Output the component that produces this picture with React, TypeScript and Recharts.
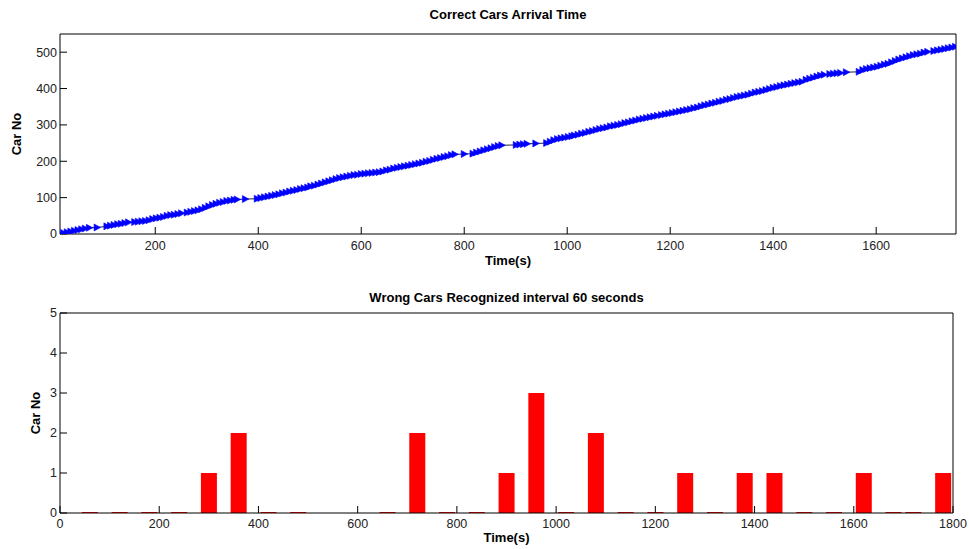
import { LineChart, Line, BarChart, Bar, XAxis, YAxis } from "recharts";

const arrivalTime = [
  15, 22, 29, 36, 43, 50, 57, 64, 72, 87, 106, 113, 120, 127, 134, 141, 148, 160, 167, 174,
  181, 188, 195, 202, 209, 216, 223, 230, 237, 244, 251, 262, 269, 276, 283, 290, 297, 304, 311, 318,
  325, 332, 339, 346, 353, 359, 375, 398, 405, 412, 419, 426, 433, 440, 447, 454, 461, 468, 475, 482,
  489, 496, 502, 509, 516, 523, 530, 537, 544, 551, 558, 565, 572, 579, 586, 593, 600, 607, 614, 621,
  628, 635, 642, 649, 656, 663, 670, 677, 684, 691, 698, 705, 712, 719, 726, 733, 740, 747, 754, 761,
  768, 775, 782, 800, 817, 824, 831, 838, 845, 852, 859, 866, 873, 901, 908, 915, 922, 939, 960, 967,
  974, 981, 988, 995, 1002, 1009, 1014, 1021, 1028, 1035, 1042, 1049, 1056, 1063, 1070, 1077, 1084, 1091, 1098, 1105,
  1112, 1119, 1126, 1133, 1140, 1147, 1154, 1161, 1168, 1175, 1183, 1190, 1197, 1204, 1211, 1218, 1225, 1232, 1239, 1246,
  1253, 1260, 1267, 1274, 1281, 1288, 1295, 1302, 1309, 1316, 1323, 1330, 1337, 1344, 1351, 1358, 1365, 1372, 1379, 1386,
  1393, 1400, 1407, 1414, 1421, 1428, 1435, 1442, 1449, 1456, 1464, 1471, 1478, 1485, 1492, 1499, 1510, 1517, 1524, 1531,
  1542, 1567, 1574, 1581, 1588, 1595, 1602, 1609, 1616, 1623, 1630, 1637, 1644, 1651, 1658, 1665, 1672, 1679, 1686, 1693,
  1700, 1712, 1719, 1726, 1733, 1740, 1747, 1754,
];
const carNo = [
  1, 3, 5, 7, 9, 11, 13, 15, 17, 18, 21, 23, 25, 27, 28, 30, 32, 33, 34, 35,
  36, 38, 41, 43, 45, 47, 50, 52, 53, 55, 57, 59, 61, 63, 65, 68, 72, 76, 80, 83,
  86, 88, 91, 92, 94, 95, 96, 97, 99, 101, 103, 105, 107, 109, 112, 114, 117, 119, 121, 124,
  126, 128, 131, 133, 136, 139, 142, 145, 148, 151, 154, 156, 158, 160, 162, 163, 165, 166, 167, 168,
  169, 170, 172, 175, 177, 180, 182, 184, 186, 188, 190, 192, 194, 196, 199, 201, 204, 207, 209, 212,
  214, 217, 219, 220, 221, 224, 227, 230, 233, 236, 239, 242, 244, 245, 246, 247, 248, 249, 250, 254,
  258, 261, 263, 265, 267, 269, 271, 273, 276, 278, 281, 283, 286, 289, 291, 293, 296, 298, 300, 302,
  305, 307, 310, 312, 315, 317, 319, 321, 323, 325, 327, 329, 331, 333, 335, 337, 339, 341, 343, 346,
  348, 351, 354, 356, 359, 361, 364, 366, 369, 371, 374, 377, 379, 381, 383, 386, 389, 391, 393, 396,
  399, 402, 404, 407, 409, 411, 413, 415, 417, 419, 424, 427, 430, 433, 436, 438, 440, 441, 442, 443,
  445, 446, 451, 454, 456, 458, 460, 463, 466, 468, 472, 476, 480, 483, 486, 489, 492, 494, 496, 499,
  501, 503, 505, 507, 509, 511, 513, 515,
];

// 60-second intervals and number of wrongly recognized cars
const intervalTime = [
  60, 120, 180, 240, 300, 360, 420, 480, 660, 720, 780, 840, 900, 960, 1020, 1080, 1140, 1200,
  1260, 1320, 1380, 1440, 1500, 1560, 1620, 1680, 1720, 1780,
];
const wrongCars = [
  0, 0, 0, 0, 1, 2, 0, 0, 0, 2, 0, 0, 1, 3, 0, 2, 0, 0,
  1, 0, 1, 1, 0, 0, 1, 0, 0, 1,
];

const topXTicks = [200, 400, 600, 800, 1000, 1200, 1400, 1600];
const topYTicks = [0, 100, 200, 300, 400, 500];
const bottomXTicks = [0, 200, 400, 600, 800, 1000, 1200, 1400, 1600, 1800];
const bottomYTicks = [0, 1, 2, 3, 4, 5];

const arrivals = arrivalTime.map((t, i) => ({ t, car: carNo[i] }));
const wrongData = intervalTime.map((t, i) => ({ t, wrong: wrongCars[i] }));

const tickStyle = { fill: "#222", fontSize: 12.5 };
const labelStyle = { fill: "#000", fontSize: 13, fontWeight: "bold" };

const renderArrow = (props: any) => {
  const { cx, cy, index } = props;
  if (cx == null || cy == null) return <g key={`d-${index}`} />;
  return (
    <path
      key={`d-${index}`}
      d={`M${cx - 3},${cy - 3.5}L${cx + 3.5},${cy}L${cx - 3},${cy + 3.5}Z`}
      fill="#0000ff"
      stroke="#0000ff"
      strokeWidth={0.6}
    />
  );
};

const yLabel = (text: string, x: number) => (props: any) => {
  const vb = props.viewBox || {};
  const cy = (vb.y || 0) + (vb.height || 0) / 2;
  return (
    <text
      x={x}
      y={cy}
      transform={`rotate(-90, ${x}, ${cy})`}
      textAnchor="middle"
      dominantBaseline="central"
      fontSize={13}
      fontWeight="bold"
      fill="#000"
    >
      {text}
    </text>
  );
};

export default function App() {
  return (
    <div
      style={{
        position: "absolute",
        left: 0,
        top: 0,
        width: 969,
        height: 549,
        background: "#fff",
        fontFamily: '"Liberation Sans", Arial, sans-serif',
      }}
    >
      <div style={{ position: "absolute", left: 0, top: 0 }}>
        <LineChart width={969} height={270} data={arrivals} margin={{ top: 33, right: 12, bottom: 0, left: 0 }}>
          <XAxis
            dataKey="t"
            type="number"
            domain={[15, 1755]}
            ticks={topXTicks}
            allowDataOverflow
            height={36}
            tickSize={-7}
            tickMargin={14}
            stroke="#000"
            tick={tickStyle}
            label={{ value: "Time(s)", position: "insideBottom", offset: 5, ...labelStyle }}
          />
          <XAxis
            xAxisId="top"
            orientation="top"
            type="number"
            domain={[15, 1755]}
            ticks={topXTicks}
            allowDataOverflow
            height={1}
            tickSize={-7}
            tick={false}
            stroke="#000"
            label={{ value: "Correct Cars Arrival Time", position: "top", offset: 14, ...labelStyle }}
          />
          <YAxis
            type="number"
            domain={[0, 550]}
            ticks={topYTicks}
            allowDataOverflow
            width={60}
            tickSize={-7}
            tickMargin={10}
            stroke="#000"
            tick={tickStyle}
            label={{ content: yLabel("Car No", 16) }}
          />
          <YAxis
            yAxisId="right"
            orientation="right"
            type="number"
            domain={[0, 550]}
            ticks={topYTicks}
            allowDataOverflow
            width={1}
            tickSize={-7}
            tick={false}
            stroke="#000"
          />
          <Line
            type="linear"
            dataKey="car"
            stroke="#202040"
            strokeWidth={1}
            dot={renderArrow}
            activeDot={false}
            isAnimationActive={false}
          />
        </LineChart>
      </div>
      <div style={{ position: "absolute", left: 0, top: 278 }}>
        <BarChart width={969} height={271} data={wrongData} margin={{ top: 34, right: 15, bottom: 0, left: 0 }}>
          <XAxis
            dataKey="t"
            type="number"
            domain={[0, 1800]}
            ticks={bottomXTicks}
            allowDataOverflow
            height={36}
            tickSize={-7}
            tickMargin={13}
            stroke="#000"
            tick={tickStyle}
            label={{ value: "Time(s)", position: "insideBottom", offset: 7, ...labelStyle }}
          />
          <XAxis
            xAxisId="top"
            orientation="top"
            type="number"
            domain={[0, 1800]}
            ticks={bottomXTicks}
            allowDataOverflow
            height={1}
            tickSize={-7}
            tick={false}
            stroke="#000"
            label={{ value: "Wrong Cars Recognized interval 60 seconds", position: "top", offset: 10, ...labelStyle }}
          />
          <YAxis
            type="number"
            domain={[0, 5]}
            ticks={bottomYTicks}
            allowDataOverflow
            width={60}
            tickSize={-7}
            tickMargin={10}
            stroke="#000"
            tick={tickStyle}
            label={{ content: yLabel("Car No", 35) }}
          />
          <YAxis
            yAxisId="right"
            orientation="right"
            type="number"
            domain={[0, 5]}
            ticks={bottomYTicks}
            allowDataOverflow
            width={1}
            tickSize={-7}
            tick={false}
            stroke="#000"
          />
          <Bar dataKey="wrong" fill="#ff0000" barSize={16} minPointSize={1} isAnimationActive={false} />
        </BarChart>
      </div>
    </div>
  );
}
